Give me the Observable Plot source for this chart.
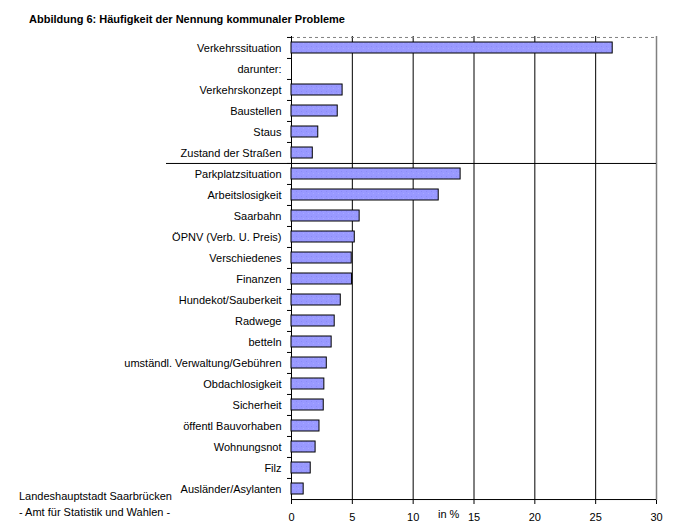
<!DOCTYPE html>
<html>
<head>
<meta charset="utf-8">
<script src="https://cdn.jsdelivr.net/npm/d3@7"></script>
<script src="https://cdn.jsdelivr.net/npm/@observablehq/plot@0.6"></script>
<style>
  html, body { margin: 0; padding: 0; background: #fff; }
  #wrap { position: relative; width: 679px; height: 532px; font-family: "Liberation Sans", Arial, sans-serif; font-size: 11px; color: #000; }
  #wrap svg { position: absolute; left: 0; top: 0; }
  .ov { position: absolute; white-space: nowrap; line-height: 1; }
</style>
</head>
<body>
<div id="wrap">
  <div class="ov" id="title" style="left:29px; top:14px; font-weight:bold;">Abbildung 6: Häufigkeit der Nennung kommunaler Probleme</div>
  <div class="ov" style="left:19px; top:491px;">Landeshauptstadt Saarbrücken</div>
  <div class="ov" style="left:19px; top:507px;">- Amt für Statistik und Wahlen -</div>
  <div class="ov" style="left:438px; top:509px;">in %</div>
</div>
<script>
const categories = [
  "Verkehrssituation", "darunter:", "Verkehrskonzept", "Baustellen", "Staus", "Zustand der Straßen",
  "Parkplatzsituation", "Arbeitslosigkeit", "Saarbahn", "ÖPNV (Verb. U. Preis)", "Verschiedenes",
  "Finanzen", "Hundekot/Sauberkeit", "Radwege", "betteln", "umständl. Verwaltung/Gebühren",
  "Obdachlosigkeit", "Sicherheit", "öffentl Bauvorhaben", "Wohnungsnot", "Filz", "Ausländer/Asylanten"
];
const values = [
  26.4, null, 4.2, 3.8, 2.2, 1.75,
  13.9, 12.1, 5.6, 5.2, 4.95,
  4.97, 4.05, 3.55, 3.3, 2.9,
  2.7, 2.65, 2.3, 1.98, 1.58, 1.0
];
const xTicks = [0, 5, 10, 15, 20, 25, 30];
const gridBlack = [5, 10, 15, 20, 25];
const gridGray = [30];
const separatorBefore = ["Parkplatzsituation"];

const data = categories.map((c, i) => ({category: c, value: values[i]})).filter(d => d.value != null);

const marginTop = 36, marginBottom = 32, height = 532;
const step = (height - marginTop - marginBottom) / categories.length;

const plot = Plot.plot({
  width: 679,
  height,
  marginLeft: 291,
  marginRight: 23,
  marginTop,
  marginBottom,
  style: {fontFamily: '"Liberation Sans", Arial, sans-serif', fontSize: "11px", color: "#000", background: "transparent"},
  x: {domain: [0, 30], ticks: xTicks, label: null},
  y: {domain: categories, paddingInner: 0.47, paddingOuter: 0.235, label: null},
  marks: [
    Plot.ruleX(gridBlack, {stroke: "#000", strokeWidth: 1}),
    Plot.ruleX(gridGray, {stroke: "#808080", strokeWidth: 1.5}),
    Plot.ruleY([categories[0]], {dy: -step / 2, stroke: "#808080", strokeDasharray: "3,3", strokeWidth: 1}),
    Plot.ruleY(separatorBefore, {dy: -step / 2, stroke: "#000", strokeWidth: 1, insetLeft: -125}),
    Plot.ruleY(categories, {dy: -step / 2, x1: 0, x2: 0, insetLeft: -4, stroke: "#000"}),
    Plot.ruleY([categories[categories.length - 1]], {dy: step / 2, stroke: "#000", strokeWidth: 1}),
    Plot.ruleX([0], {stroke: "#000", strokeWidth: 1}),
    Plot.barX(data, {x: "value", y: "category", fill: "url(#dots)", stroke: "#000", strokeWidth: 1}),
    Plot.axisY({tickSize: 0, tickPadding: 10, fontSize: 11}),
    Plot.axisX({tickSize: 4, tickPadding: 9, fontSize: 11, ticks: xTicks, tickFormat: d => String(d)})
  ]
});

const svg = d3.select(plot);
const defs = svg.insert("defs", ":first-child");
const pat = defs.append("pattern").attr("id", "dots").attr("patternUnits", "userSpaceOnUse")
  .attr("width", 5).attr("height", 5);
pat.append("rect").attr("width", 5).attr("height", 5).attr("fill", "#9999ff");
pat.append("rect").attr("x", 1).attr("y", 1).attr("width", 1).attr("height", 1).attr("fill", "#8c8cf5");
pat.append("rect").attr("x", 3).attr("y", 3).attr("width", 1).attr("height", 1).attr("fill", "#a8a8ff");

document.getElementById("wrap").prepend(plot);
</script>
</body>
</html>
